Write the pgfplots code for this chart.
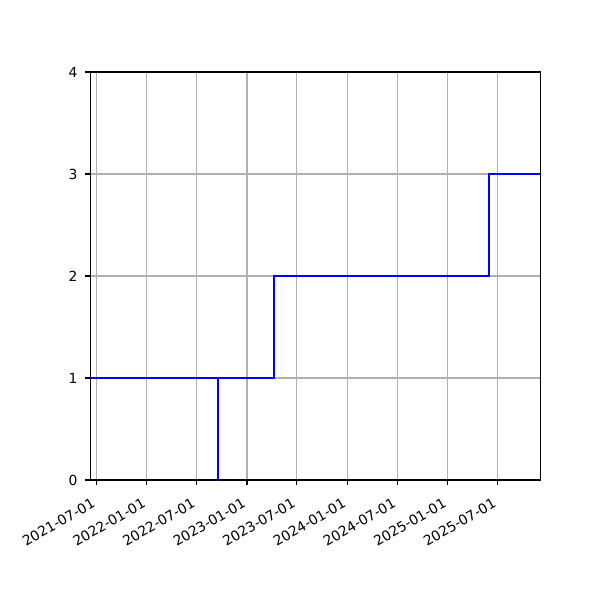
\documentclass[border=0pt]{standalone}
\usepackage{fontspec}
\setmainfont{DejaVu Sans}
\usepackage{pgfplots}
\pgfplotsset{compat=1.18}
\definecolor{gridgray}{HTML}{B0B0B0}
\begin{document}
% 1 px = 0.5pt; page 600x600 px, axis box 450x408 px at (90,120) from lower left
\begin{tikzpicture}
\useasboundingbox (-45.15pt,-60pt) rectangle (254.85pt,240pt);
\begin{axis}[
  scale only axis,
  width=225.2pt,
  height=204pt,
  at={(0,0)}, anchor=south west,
  xmin=-22, xmax=1619,
  ymin=0, ymax=4,
  xtick={0,184,365,549,730,914,1096,1280,1461},
  xticklabels={2021-07-01,2022-01-01,2022-07-01,2023-01-01,2023-07-01,2024-01-01,2024-07-01,2025-01-01,2025-07-01},
  ytick={0,1,2,3,4},
  grid=major,
  major grid style={gridgray, line width=0.55pt},
  axis line style={black, line width=0.55pt},
  tick style={black, line width=0.55pt},
  tick align=outside,
  major tick length=2.43pt,
  xtick pos=bottom, ytick pos=left,
  font=\fontsize{6.94}{8}\selectfont,
  /pgf/number format/assume math mode=true,
  xticklabel style={rotate=30, anchor=north east, xshift=-2pt, yshift=-0.5pt},
  yticklabel style={xshift=-0.5pt},
]
\addplot[color=blue, line width=1.04pt, line join=miter] coordinates {
(-22,1) (442,1) (442,0) (443,0) (443,1) (648,1) (648,2) (1432,2) (1432,3) (1619,3)
};
\end{axis}
\end{tikzpicture}
\end{document}
